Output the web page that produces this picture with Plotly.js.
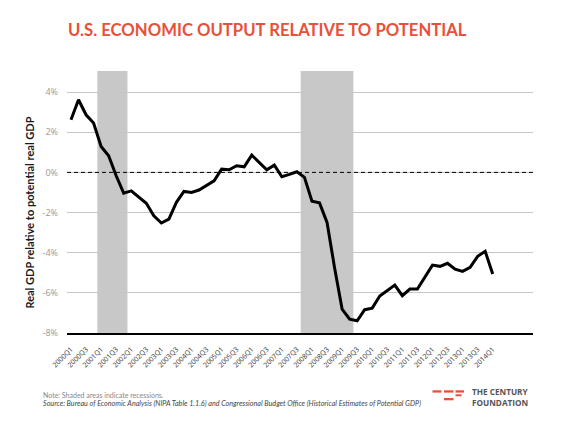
<!DOCTYPE html>
<html>
<head>
<meta charset="utf-8">
<script src="https://cdn.plot.ly/plotly-3.0.1.min.js"></script>
<style>
  html, body { margin: 0; padding: 0; background: #fff; }
  #chart { width: 566px; height: 431px; }
</style>
</head>
<body>
<div id="chart"></div>
<script>
// ---- Data ----
var quarters = [
  '2000Q1','2000Q2','2000Q3','2000Q4',
  '2001Q1','2001Q2','2001Q3','2001Q4',
  '2002Q1','2002Q2','2002Q3','2002Q4',
  '2003Q1','2003Q2','2003Q3','2003Q4',
  '2004Q1','2004Q2','2004Q3','2004Q4',
  '2005Q1','2005Q2','2005Q3','2005Q4',
  '2006Q1','2006Q2','2006Q3','2006Q4',
  '2007Q1','2007Q2','2007Q3','2007Q4',
  '2008Q1','2008Q2','2008Q3','2008Q4',
  '2009Q1','2009Q2','2009Q3','2009Q4',
  '2010Q1','2010Q2','2010Q3','2010Q4',
  '2011Q1','2011Q2','2011Q3','2011Q4',
  '2012Q1','2012Q2','2012Q3','2012Q4',
  '2013Q1','2013Q2','2013Q3','2013Q4',
  '2014Q1'
];
var outputGap = [
  2.62, 3.62, 2.87, 2.46,
  1.29, 0.83, -0.17, -1.03,
  -0.92, -1.25, -1.54, -2.16,
  -2.52, -2.33, -1.49, -0.95,
  -1.00, -0.88, -0.67, -0.42,
  0.16, 0.13, 0.33, 0.28,
  0.86, 0.50, 0.13, 0.36,
  -0.22, -0.10, 0.03, -0.25,
  -1.44, -1.52, -2.49, -4.75,
  -6.81, -7.31, -7.39, -6.84,
  -6.76, -6.16, -5.90, -5.61,
  -6.14, -5.81, -5.81, -5.23,
  -4.62, -4.68, -4.53, -4.82,
  -4.93, -4.73, -4.18, -3.93,
  -5.06
];
var tickQuarters = [
  '2000Q1','2000Q3','2001Q1','2001Q3','2002Q1','2002Q3','2003Q1','2003Q3',
  '2004Q1','2004Q3','2005Q1','2005Q3','2006Q1','2006Q3','2007Q1','2007Q3',
  '2008Q1','2008Q3','2009Q1','2009Q3','2010Q1','2010Q3','2011Q1','2011Q3',
  '2012Q1','2012Q3','2013Q1','2013Q3','2014Q1'
];
var yTickValues = [-8, -6, -4, -2, 0, 2, 4];
var yTickLabels = ['-8%', '-6%', '-4%', '-2%', '0%', '2%', '4%'];
var recessionStart = ['2001Q1', '2007Q4'];
var recessionEnd = ['2001Q4', '2009Q2'];

// ---- Layout helpers (pixel -> paper) ----
var PL = 67, PR = 533, PT = 71, PB = 333;
function px(x) { return (x - PL) / (PR - PL); }
function py(y) { return (PB - y) / (PB - PT); }

var shapes = [];
for (var i = 0; i < recessionStart.length; i++) {
  shapes.push({
    type: 'rect', layer: 'below', xref: 'x', yref: 'paper',
    x0: quarters.indexOf(recessionStart[i]) - 0.5,
    x1: quarters.indexOf(recessionEnd[i]) + 0.5,
    y0: 0, y1: 1,
    fillcolor: '#c8c8c8', line: { width: 0 }
  });
}
// zero reference line (dashed)
shapes.push({
  type: 'line', xref: 'paper', yref: 'y', x0: 0, x1: 1, y0: 0, y1: 0,
  line: { color: '#000', width: 1, dash: '4px,3px' }, layer: 'above'
});
// logo bars
var red = '#e8503a';
var logoBars = [
  [432.5, 441.5, 390.3, 392.6],
  [444, 453.5, 390.3, 392.6],
  [455.5, 464, 390.3, 392.6],
  [455.5, 461.5, 394.3, 396.3],
  [444, 453.5, 398.0, 400.3]
];
logoBars.forEach(function (b) {
  shapes.push({
    type: 'rect', xref: 'paper', yref: 'paper',
    x0: px(b[0]), x1: px(b[1]), y0: py(b[3]), y1: py(b[2]),
    fillcolor: red, line: { width: 0 }
  });
});

var trace = {
  x: quarters, y: outputGap, type: 'scatter', mode: 'lines',
  line: { color: '#000', width: 3, shape: 'linear' },
  hoverinfo: 'skip'
};

var layout = {
  width: 566, height: 431,
  margin: { l: PL, r: 566 - PR, t: PT, b: 431 - PB, pad: 0 },
  paper_bgcolor: '#fff', plot_bgcolor: 'rgba(0,0,0,0)',
  showlegend: false,
  font: { family: 'Lato, "Open Sans", sans-serif', color: '#444' },
  title: {
    text: 'U.S. ECONOMIC OUTPUT RELATIVE TO POTENTIAL',
    font: { family: 'Lato, sans-serif', size: 16.7, color: red, weight: 'bold' },
    xref: 'container', yref: 'container',
    x: 68 / 566, xanchor: 'left', y: 1 - 30 / 431, yanchor: 'middle'
  },
  xaxis: {
    type: 'category',
    range: [-0.53, 61.35],
    tickmode: 'array', tickvals: tickQuarters, ticktext: tickQuarters,
    tickangle: -45,
    tickfont: { family: '"Open Sans", sans-serif', size: 7, color: '#333' },
    showgrid: false, zeroline: false,
    showline: true, linecolor: '#000', linewidth: 1.5,
    ticks: '', ticklen: 0, ticklabelstandoff: 8, automargin: false
  },
  yaxis: {
    range: [-8, 5.05],
    tickmode: 'array', tickvals: yTickValues, ticktext: yTickLabels,
    tickfont: { family: '"Open Sans", sans-serif', size: 9, color: '#999' },
    showgrid: true, gridcolor: '#c6c6c6', gridwidth: 1,
    zeroline: false, showline: false, ticks: '',
    ticklabelstandoff: 8, automargin: false
  },
  shapes: shapes,
  annotations: [
    {
      text: '<b>Real GDP relative to potential real GDP</b>',
      xref: 'paper', yref: 'y', x: px(30), y: -2,
      xanchor: 'center', yanchor: 'middle', textangle: -90, showarrow: false,
      font: { family: 'Lato, sans-serif', size: 11, color: '#1a1a1a' }
    },
    {
      text: 'Note: Shaded areas indicate recessions.',
      xref: 'paper', yref: 'paper', x: px(41), y: py(394.5),
      xanchor: 'left', yanchor: 'middle', showarrow: false,
      font: { family: 'Lato, sans-serif', size: 7, color: '#888' }
    },
    {
      text: '<i>Source: Bureau of Economic Analysis (NIPA Table 1.1.6) and Congressional Budget Office (Historical Estimates of Potential GDP)</i>',
      xref: 'paper', yref: 'paper', x: px(41), y: py(403.5),
      xanchor: 'left', yanchor: 'middle', showarrow: false,
      font: { family: 'Lato, sans-serif', size: 7.2, color: '#444' }
    },
    {
      text: '<b>THE CENTURY<br>FOUNDATION</b>',
      xref: 'paper', yref: 'paper', x: px(470), y: py(396.5),
      xanchor: 'left', yanchor: 'middle', align: 'left', showarrow: false,
      font: { family: '"Open Sans", sans-serif', size: 8.2, color: '#555' }
    }
  ]
};

Plotly.newPlot('chart', [trace], layout, { displayModeBar: false, staticPlot: true });
</script>
</body>
</html>
